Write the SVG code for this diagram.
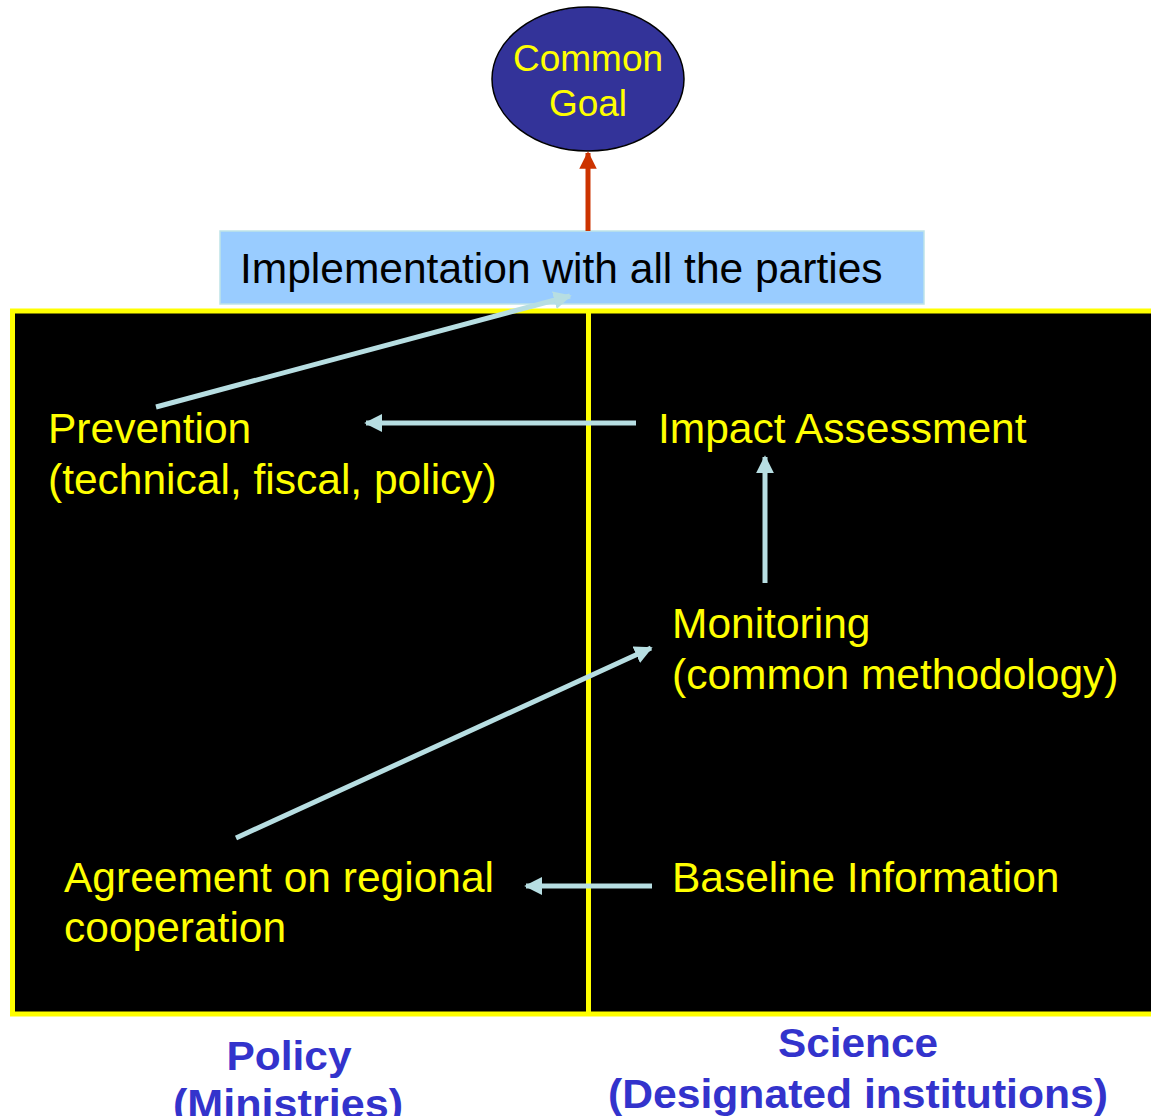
<svg xmlns="http://www.w3.org/2000/svg" width="1151" height="1116" viewBox="0 0 1151 1116">
<style>
.t{font-family:"Liberation Sans",Arial,sans-serif;font-size:42.5px;fill:#FFFF00}
.c{stroke:#B7DEE2;stroke-width:5;fill:none}
.lab{font-family:"Liberation Sans",Arial,sans-serif;font-size:40px;font-weight:bold;fill:#3333CC;text-anchor:middle}
</style>
<defs>
<marker id="ah" viewBox="0 0 10 10" refX="9" refY="5" markerWidth="3.6" markerHeight="3.6" orient="auto" markerUnits="strokeWidth">
<path d="M0,0 L10,5 L0,10 z" fill="#B7DEE2"/>
</marker>
<marker id="ar" viewBox="0 0 10 10" refX="9" refY="5" markerWidth="3.5" markerHeight="3.5" orient="auto" markerUnits="strokeWidth">
<path d="M0,0 L10,5 L0,10 z" fill="#CC3300"/>
</marker>
</defs>
<rect width="1151" height="1116" fill="#FFFFFF"/>
<g id="panel">
<rect x="12.5" y="311" width="1145" height="703" fill="#000000" stroke="#FFFF00" stroke-width="5"/>
<line x1="588.5" y1="311" x2="588.5" y2="1014" stroke="#FFFF00" stroke-width="5"/>
</g>
<g id="goal">
<ellipse cx="588" cy="79" rx="96" ry="72" fill="#333399" stroke="#000" stroke-width="1.5"/>
<text x="588" y="71" class="t" style="font-size:37px" text-anchor="middle">Common</text>
<text x="588" y="116" class="t" style="font-size:37px" text-anchor="middle">Goal</text>
</g>
<g id="implementation">
<rect x="220" y="231" width="704" height="73" fill="#99CCFF" stroke="#BEE3E8" stroke-width="1.5"/>
<text x="240" y="283" class="t" style="fill:#000000">Implementation with all the parties</text>
</g>
<g id="prevention">
<text x="48" y="443" class="t">Prevention</text>
<text x="48" y="494" class="t">(technical, fiscal, policy)</text>
</g>
<g id="impact">
<text x="658" y="443" class="t">Impact Assessment</text>
</g>
<g id="monitoring">
<text x="672" y="638" class="t">Monitoring</text>
<text x="672" y="689" class="t">(common methodology)</text>
</g>
<g id="agreement">
<text x="64" y="892" class="t">Agreement on regional</text>
<text x="64" y="942" class="t">cooperation</text>
</g>
<g id="baseline">
<text x="672" y="892" class="t">Baseline Information</text>
</g>
<g id="policy-label">
<text x="289" y="1070" class="lab" textLength="125" lengthAdjust="spacingAndGlyphs">Policy</text>
<text x="288" y="1118" class="lab" textLength="230" lengthAdjust="spacingAndGlyphs">(Ministries)</text>
</g>
<g id="science-label">
<text x="858" y="1057" class="lab" textLength="160" lengthAdjust="spacingAndGlyphs">Science</text>
<text x="858" y="1108" class="lab" textLength="500" lengthAdjust="spacingAndGlyphs">(Designated institutions)</text>
</g>
<g id="connectors">
<line x1="588" y1="231" x2="588" y2="153" stroke="#CC3300" stroke-width="5" marker-end="url(#ar)"/>
<line class="c" x1="156" y1="407" x2="570" y2="296" marker-end="url(#ah)"/>
<line class="c" x1="636" y1="423" x2="366" y2="423" marker-end="url(#ah)"/>
<line class="c" x1="765" y1="583" x2="765" y2="457" marker-end="url(#ah)"/>
<line class="c" x1="236" y1="838" x2="651" y2="648" marker-end="url(#ah)"/>
<line class="c" x1="652" y1="886" x2="526" y2="886" marker-end="url(#ah)"/>
</g>
</svg>
